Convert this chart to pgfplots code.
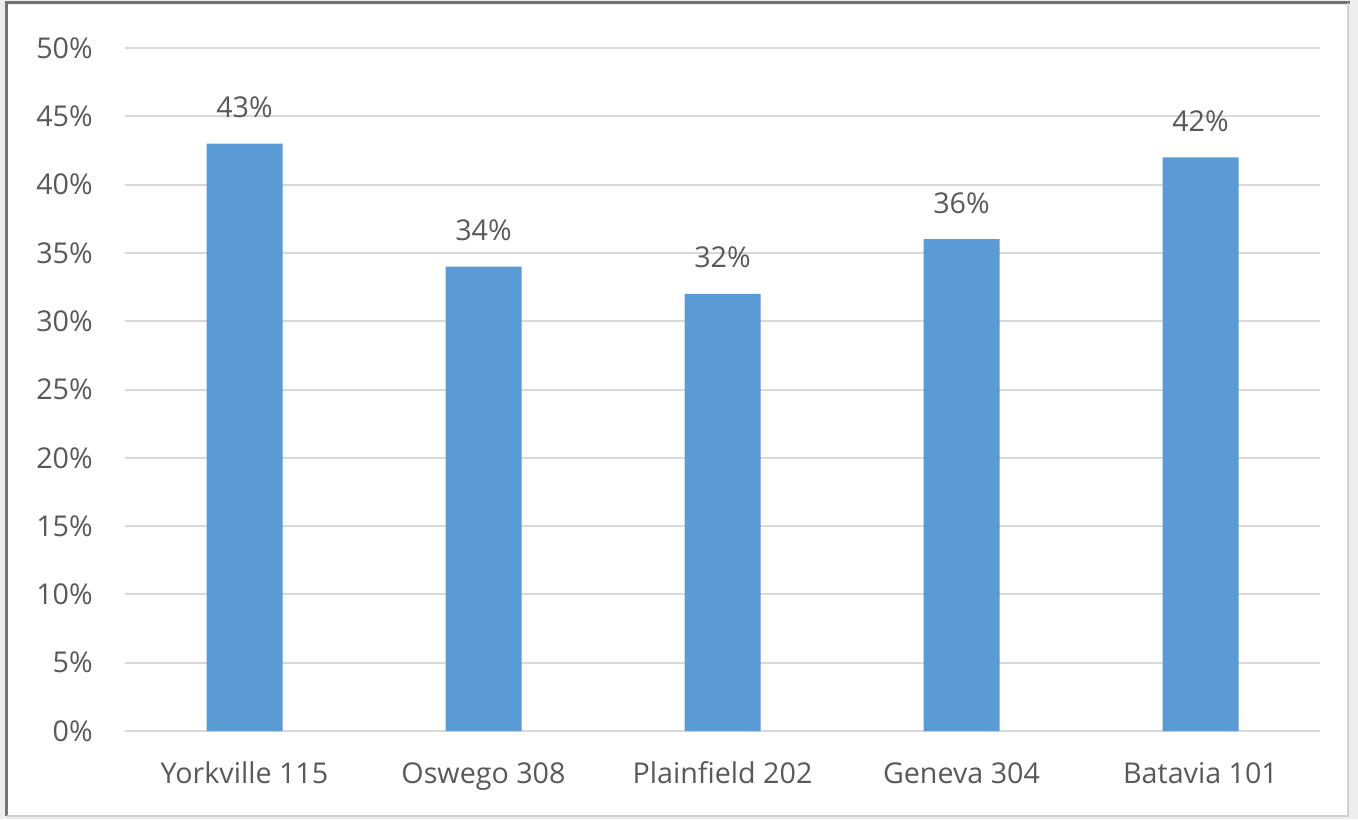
\documentclass[border=0pt]{standalone}
\usepackage{pgfplots}
\pgfplotsset{compat=1.18}
\usepackage{fontspec}
\setmainfont{Open Sans}
\definecolor{barblue}{HTML}{5B9BD5}
\definecolor{txt}{HTML}{595959}
\definecolor{grd}{HTML}{D9D9D9}
\begin{document}
\begin{tikzpicture}
\path[use as bounding box] (0pt,0pt) rectangle (1018.5pt,614.25pt);
\fill[black!7] (0pt,0pt) rectangle (1018.5pt,614.25pt);
\fill[white] (6pt,3pt) rectangle (1010.25pt,610.5pt);
\draw[black!55,line width=2.25pt] (4.9pt,2.25pt) -- (4.9pt,612.4pt) -- (1012.5pt,612.4pt);
\draw[black!18,line width=1.5pt] (1011pt,612pt) -- (1011pt,1.9pt) -- (4.9pt,1.9pt);
\begin{axis}[
  at={(93.75pt,66pt)}, anchor=south west, scale only axis,
  width=896.25pt, height=512.25pt,
  xmin=-0.5, xmax=4.5, ymin=0, ymax=50,
  xtick={0,1,2,3,4},
  xticklabels={Yorkville 115, Oswego 308, Plainfield 202, Geneva 304, Batavia 101},
  ytick={0,5,...,50},
  yticklabels={0\%,5\%,10\%,15\%,20\%,25\%,30\%,35\%,40\%,45\%,50\%},
  ymajorgrids, grid style={grd, line width=1.5pt},
  separate axis lines,
  axis x line*=bottom, axis y line*=left,
  y axis line style={draw=none},
  x axis line style={grd, line width=1.5pt, -},
  major tick length=0pt, tick style={draw=none},
  /pgf/number format/assume math mode=true,
  yticklabel style={font=\fontsize{21.5}{25}\selectfont, text=txt, anchor=east, inner sep=0pt, xshift=-24pt},
  xticklabel style={font=\fontsize{21.5}{25}\selectfont, text=txt, anchor=base, inner sep=0pt, yshift=-39pt},
  ybar, bar width=57pt,
  nodes near coords={\pgfmathprintnumber{\pgfplotspointmeta}\%},
  every node near coord/.append style={font=\fontsize{21.5}{25}\selectfont, text=txt, anchor=base, inner sep=0pt, yshift=19.5pt},
]
\addplot[fill=barblue, draw=none] coordinates {(0,43) (1,34) (2,32) (3,36) (4,42)};
\end{axis}
\end{tikzpicture}
\end{document}
